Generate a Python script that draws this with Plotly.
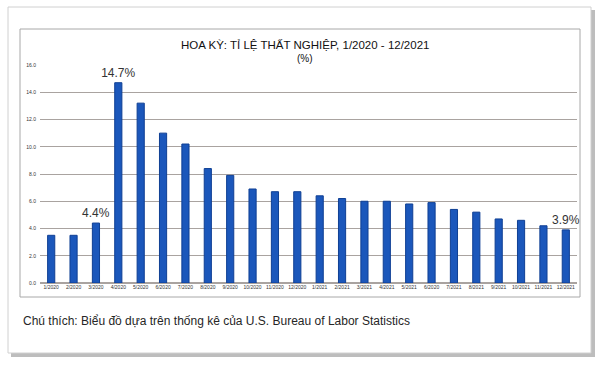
import plotly.graph_objects as go

months = ["1/2020", "2/2020", "3/2020", "4/2020", "5/2020", "6/2020", "7/2020", "8/2020",
          "9/2020", "10/2020", "11/2020", "12/2020", "1/2021", "2/2021", "3/2021", "4/2021",
          "5/2021", "6/2020", "7/2021", "8/2021", "9/2021", "10/2021", "11/2021", "12/2021"]
rates = [3.5, 3.5, 4.4, 14.7, 13.2, 11.0, 10.2, 8.4, 7.9, 6.9, 6.7, 6.7,
         6.4, 6.2, 6.0, 6.0, 5.8, 5.9, 5.4, 5.2, 4.7, 4.6, 4.2, 3.9]
labels = ["", "", "4.4%", "14.7%"] + [""] * 19 + ["3.9%"]
y_ticks = [0, 2, 4, 6, 8, 10, 12, 14, 16]

W, H = 603, 366
L, R, T, B = 40, 577, 65, 283

def px(x):
    return (x - L) / (R - L)

def py(y):
    return (B - y) / (B - T)

xs = list(range(len(months)))

fig = go.Figure(go.Bar(
    x=xs, y=rates, text=labels, textposition="outside", cliponaxis=False,
    constraintext="none", textangle=0,
    textfont=dict(family="Liberation Sans, Arial", size=12, color="#333333"),
    marker=dict(color="#1b57bb", line=dict(color="#0f3f94", width=1)),
    width=0.32,
))

shapes = [
    dict(type="rect", xref="paper", yref="paper", x0=px(11), x1=px(595), y0=py(10), y1=py(357),
         fillcolor="#bdbdbd", line=dict(width=0), layer="below"),
    dict(type="rect", xref="paper", yref="paper", x0=px(8), x1=px(591), y0=py(7), y1=py(353),
         fillcolor="white", line=dict(color="#d0d0d0", width=1), layer="below"),
    dict(type="rect", xref="paper", yref="paper", x0=px(20), x1=px(580), y0=py(29), y1=py(297),
         fillcolor="white", line=dict(color="#a8a8a8", width=1), layer="below"),
]

annotations = [
    dict(text="HOA KỲ: TỈ LỆ THẤT NGHIỆP, 1/2020 - 12/2021", xref="paper", yref="paper",
         x=px(305), y=py(45), showarrow=False, xanchor="center", yanchor="middle",
         font=dict(family="Liberation Sans, Arial", size=11.5, color="#111111")),
    dict(text="(%)", xref="paper", yref="paper",
         x=px(305), y=py(58), showarrow=False, xanchor="center", yanchor="middle",
         font=dict(family="Liberation Sans, Arial", size=10, color="#111111")),
    dict(text="Chú thích: Biểu đồ dựa trên thống kê của U.S. Bureau of Labor Statistics",
         xref="paper", yref="paper", x=px(21), y=py(321), showarrow=False,
         xanchor="left", yanchor="middle",
         font=dict(family="Liberation Sans, Arial", size=12, color="#262626")),
]

fig.update_layout(
    width=W, height=H,
    margin=dict(l=L, r=W - R, t=T, b=H - B, pad=0, autoexpand=False),
    paper_bgcolor="white", plot_bgcolor="rgba(0,0,0,0)",
    showlegend=False, shapes=shapes, annotations=annotations,
    xaxis=dict(tickmode="array", tickvals=xs, ticktext=months, range=[-0.5, 23.5],
               tickfont=dict(family="Liberation Sans, Arial", size=5, color="#333333"),
               showgrid=False, zeroline=False, showline=False, ticks="", ticklen=0,
               automargin=False, tickangle=0),
    yaxis=dict(range=[0, 16], tickvals=y_ticks, tickformat=".1f",
               tickfont=dict(family="Liberation Sans, Arial", size=5, color="#333333"),
               showgrid=True, gridcolor="#a9a3a0", gridwidth=1,
               zeroline=True, zerolinecolor="#a9a3a0", showline=False, ticks="",
               ticklabelstandoff=3, automargin=False),
)

fig.write_html("out.html", config={"displayModeBar": False},
               post_script="document.body.style.margin='0';document.body.style.overflow='hidden';")
